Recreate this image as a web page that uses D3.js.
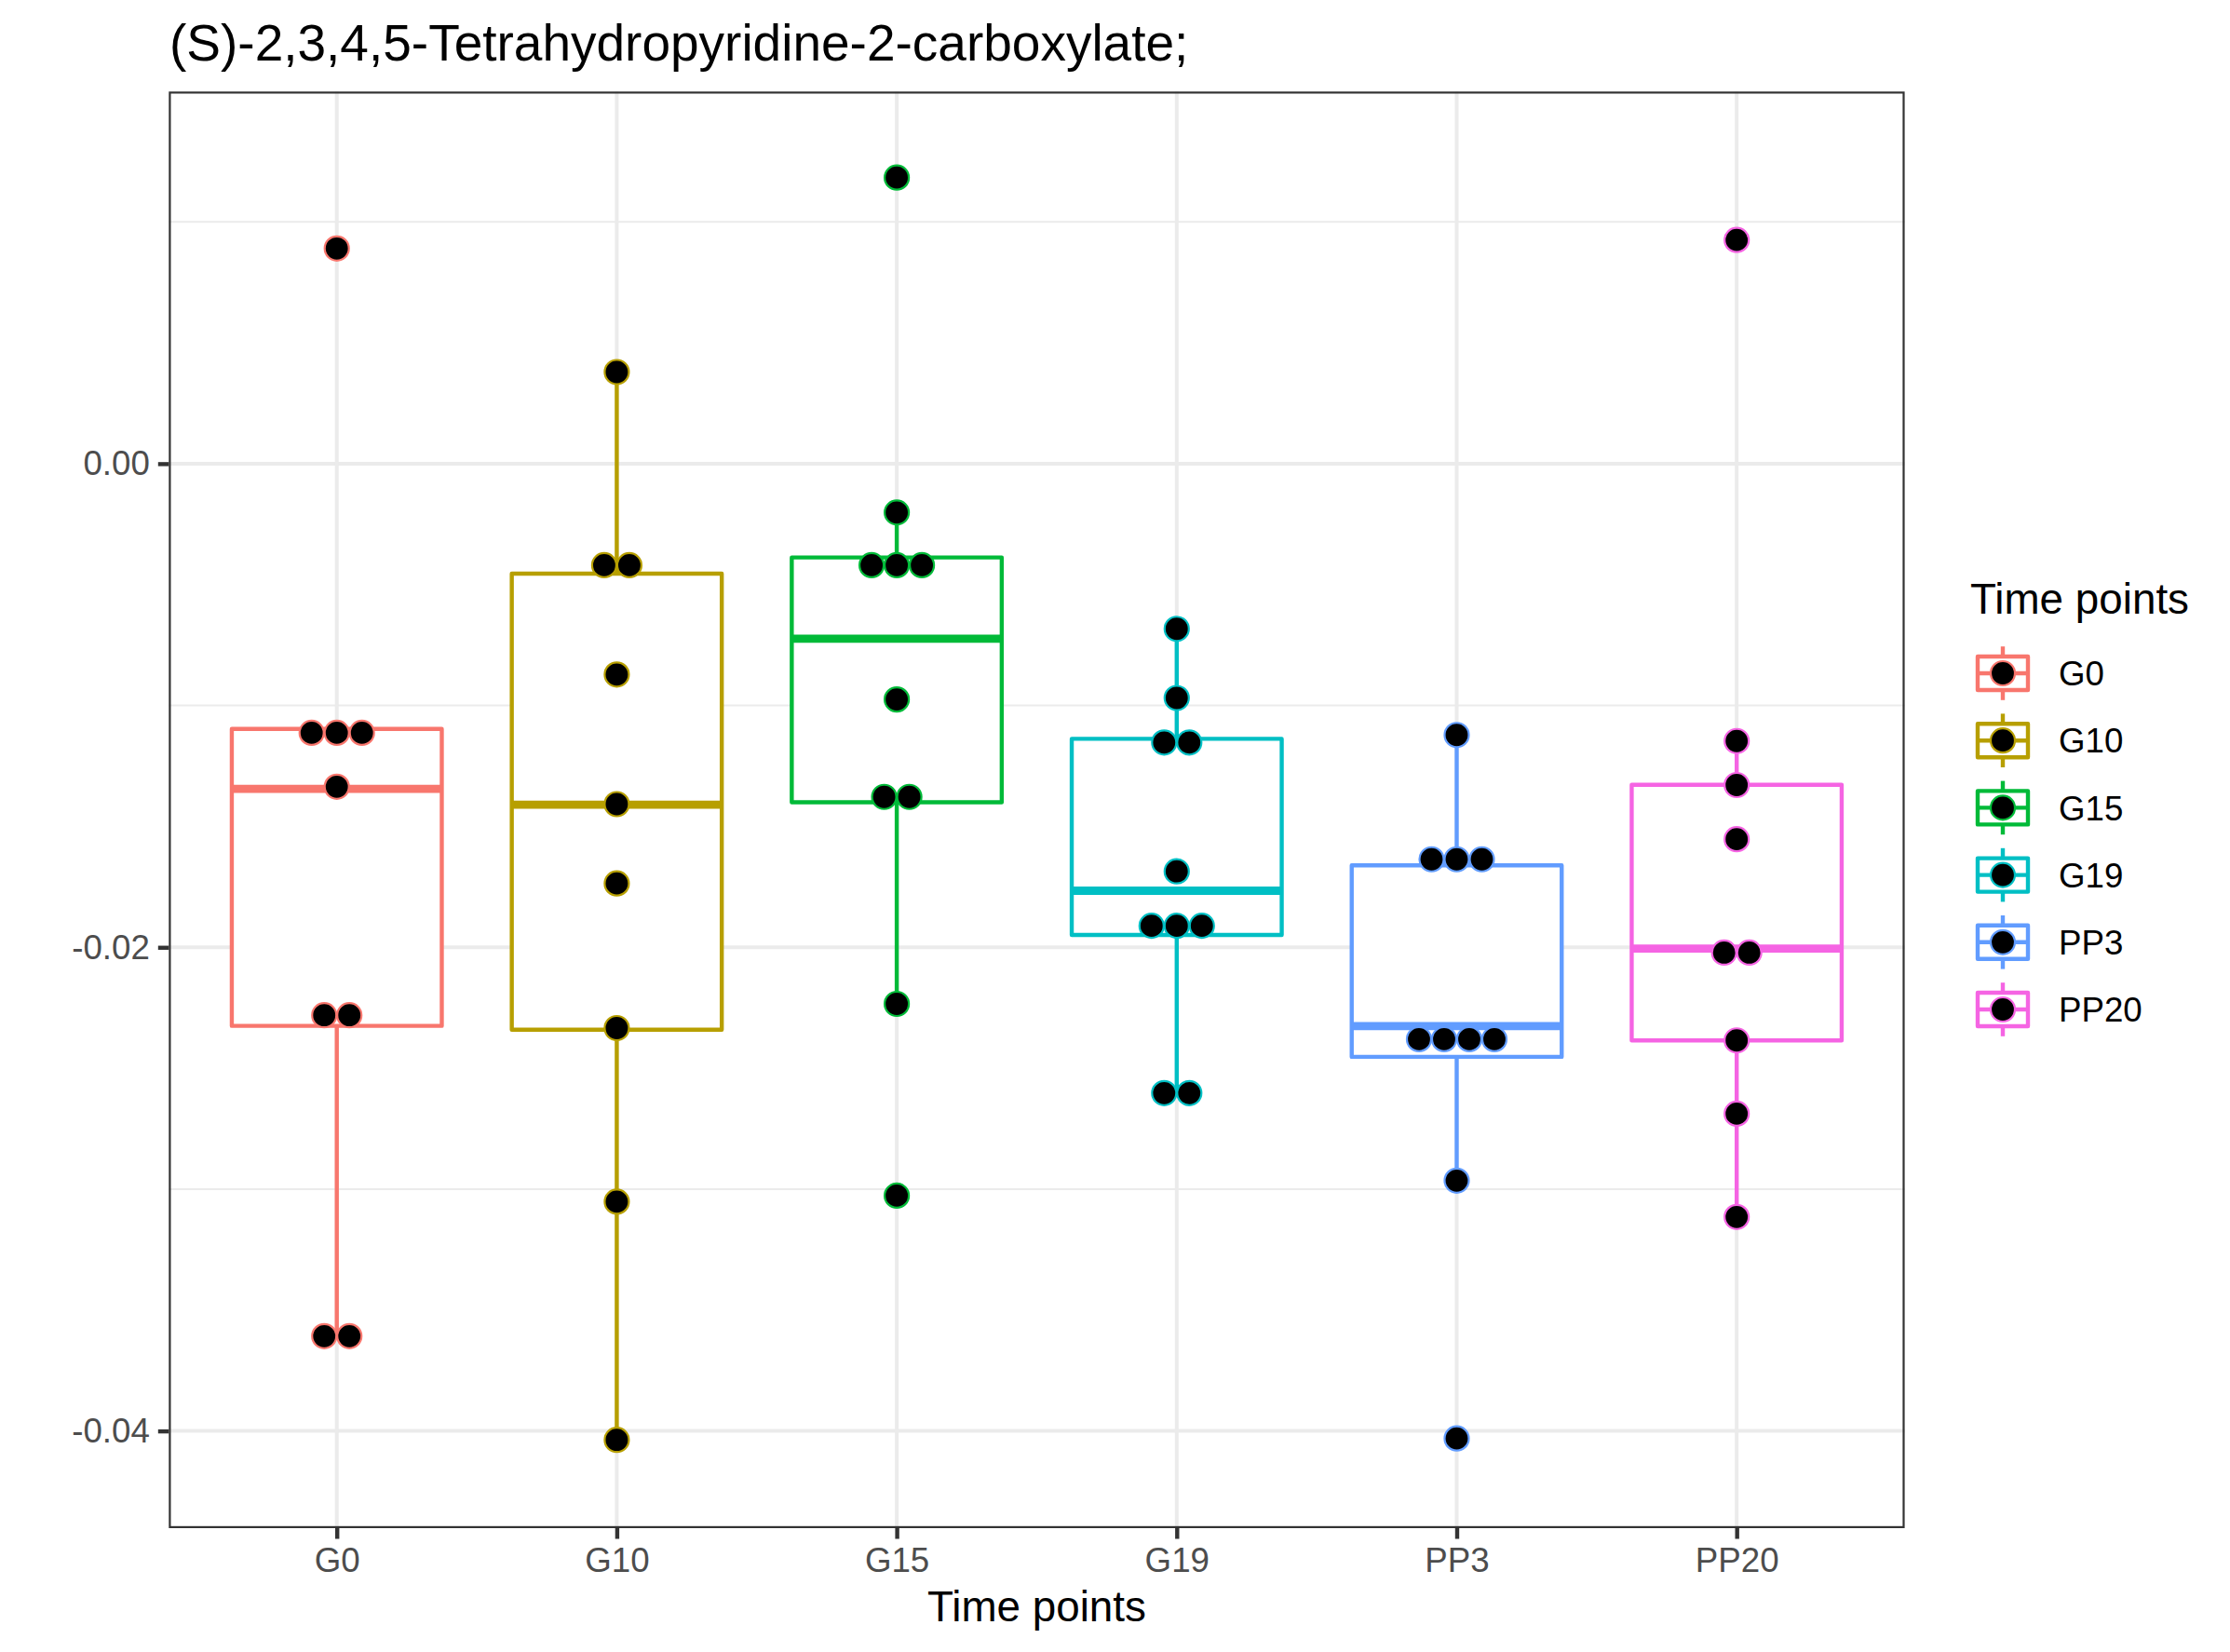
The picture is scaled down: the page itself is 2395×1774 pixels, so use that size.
<!DOCTYPE html>
<html>
<head>
<meta charset="utf-8">
<script src="https://cdn.jsdelivr.net/npm/d3@7"></script>
<style>
  html, body { margin: 0; padding: 0; background: #ffffff; }
  text { font-family: "Liberation Sans", Arial, Helvetica, sans-serif; }
</style>
</head>
<body>
<svg id="chart" width="2395" height="1774"></svg>
<script>
// ---------------- DATA ----------------
const categories = ["G0", "G10", "G15", "G19", "PP3", "PP20"];
const colors = ["#F8766D", "#B79F00", "#00BA38", "#00BFC4", "#619CFF", "#F564E3"];

// individual observations (stacked dots share a value)
const pointsG0   = [0.0089, -0.01113, -0.01113, -0.01113, -0.01336, -0.02281, -0.02281, -0.03608, -0.03608];
const pointsG10  = [0.00379, -0.00420, -0.00420, -0.00872, -0.01408, -0.01736, -0.02334, -0.03052, -0.04037];
const pointsG15  = [0.01183, -0.00202, -0.00420, -0.00420, -0.00420, -0.00975, -0.01378, -0.01378, -0.02234, -0.03027];
const pointsG19  = [-0.00683, -0.00969, -0.01153, -0.01153, -0.01686, -0.01911, -0.01911, -0.01911, -0.02603, -0.02603];
const pointsPP3  = [-0.01122, -0.01636, -0.01636, -0.01636, -0.02380, -0.02380, -0.02380, -0.02380, -0.02965, -0.04031];
const pointsPP20 = [0.00925, -0.01147, -0.01329, -0.01553, -0.02022, -0.02022, -0.02385, -0.02688, -0.03115];
const pointSets = [pointsG0, pointsG10, pointsG15, pointsG19, pointsPP3, pointsPP20];

// box statistics per category: lower whisker, Q1, median, Q3, upper whisker
const whiskerLow  = [-0.03608, -0.04037, -0.02234, -0.02603, -0.02965, -0.03115];
const q1          = [-0.02325, -0.02341, -0.01400, -0.01949, -0.02453, -0.02385];
const medians     = [-0.01345, -0.01410, -0.00724, -0.01766, -0.02326, -0.02005];
const q3          = [-0.01097, -0.00455, -0.00388, -0.01138, -0.01661, -0.01328];
const whiskerHigh = [-0.01097,  0.00379, -0.00202, -0.00683, -0.01122, -0.01147];

const yTicksMajor = [0.00, -0.02, -0.04];
const yTicksMinor = [0.01, -0.01, -0.03];
const yTickLabels = ["0.00", "-0.02", "-0.04"];

const titleText = "(S)-2,3,4,5-Tetrahydropyridine-2-carboxylate;";
const xTitle = "Time points";
const legendTitle = "Time points";

// ---------------- LAYOUT ----------------
const svg = d3.select("#chart");
const W = 2395, H = 1774;
const panel = { left: 181.3, right: 2045.6, top: 98.3, bottom: 1641 };

svg.append("rect").attr("x", 0).attr("y", 0).attr("width", W).attr("height", H).attr("fill", "#ffffff");

const x = d3.scalePoint().domain(categories).range([panel.left, panel.right]).padding(0.6);
const y = d3.scaleLinear().domain([-0.04402, 0.015388]).range([panel.bottom, panel.top]);
const step = x.step();
const boxW = 0.75 * step;
const dotSpacing = 27;
const dotR = 13;

const g = svg.append("g");

// grid
g.selectAll("line.minorY").data(yTicksMinor).join("line")
  .attr("x1", panel.left).attr("x2", panel.right)
  .attr("y1", d => y(d)).attr("y2", d => y(d))
  .attr("stroke", "#EBEBEB").attr("stroke-width", 2);
g.selectAll("line.majorY").data(yTicksMajor).join("line")
  .attr("x1", panel.left).attr("x2", panel.right)
  .attr("y1", d => y(d)).attr("y2", d => y(d))
  .attr("stroke", "#EBEBEB").attr("stroke-width", 4);
g.selectAll("line.majorX").data(categories).join("line")
  .attr("x1", d => x(d)).attr("x2", d => x(d))
  .attr("y1", panel.top).attr("y2", panel.bottom)
  .attr("stroke", "#EBEBEB").attr("stroke-width", 4);

// boxplots
categories.forEach((c, i) => {
  const cx = x(c);
  const col = colors[i];
  const bg = g.append("g");
  bg.append("line").attr("x1", cx).attr("x2", cx)
    .attr("y1", y(q3[i])).attr("y2", y(whiskerHigh[i]))
    .attr("stroke", col).attr("stroke-width", 4.4);
  bg.append("line").attr("x1", cx).attr("x2", cx)
    .attr("y1", y(q1[i])).attr("y2", y(whiskerLow[i]))
    .attr("stroke", col).attr("stroke-width", 4.4);
  bg.append("rect")
    .attr("x", cx - boxW / 2).attr("y", y(q3[i]))
    .attr("width", boxW).attr("height", y(q1[i]) - y(q3[i]))
    .attr("fill", "#ffffff").attr("stroke", col).attr("stroke-width", 4.4)
    .attr("stroke-linejoin", "round");
  bg.append("line").attr("x1", cx - boxW / 2).attr("x2", cx + boxW / 2)
    .attr("y1", y(medians[i])).attr("y2", y(medians[i]))
    .attr("stroke", col).attr("stroke-width", 8.8);
});

// dots (stacked centred like a dotplot)
categories.forEach((c, i) => {
  const cx = x(c);
  const groups = d3.groups(pointSets[i], d => d);
  const dots = [];
  groups.forEach(([v, arr]) => {
    const n = arr.length;
    arr.forEach((d, k) => dots.push({ v: d, off: (k - (n - 1) / 2) * dotSpacing }));
  });
  g.append("g").selectAll("circle").data(dots).join("circle")
    .attr("cx", d => cx + d.off).attr("cy", d => y(d.v)).attr("r", dotR)
    .attr("fill", "#000000").attr("stroke", colors[i]).attr("stroke-width", 2.2);
});

// panel border
svg.append("rect")
  .attr("x", panel.left + 1.1).attr("y", panel.top + 1.1)
  .attr("width", panel.right - panel.left - 2.2).attr("height", panel.bottom - panel.top - 2.2)
  .attr("fill", "none").attr("stroke", "#333333").attr("stroke-width", 2.2);

// y axis
const yAxis = d3.axisLeft(y).tickValues(yTicksMajor).tickSize(11.5).tickPadding(9)
  .tickFormat((d, i) => yTickLabels[i]);
const ya = svg.append("g").attr("transform", `translate(${panel.left},0)`).call(yAxis);
ya.select(".domain").remove();
ya.selectAll(".tick line").attr("stroke", "#333333").attr("stroke-width", 4.4);
ya.selectAll(".tick text").attr("fill", "#4D4D4D").style("font-size", "36.7px")
  .style("font-family", "'Liberation Sans', Arial, Helvetica, sans-serif");

// x axis
const xAxis = d3.axisBottom(x).tickSize(11.5).tickPadding(9);
const xa = svg.append("g").attr("transform", `translate(0,${panel.bottom})`).call(xAxis);
xa.select(".domain").remove();
xa.selectAll(".tick line").attr("stroke", "#333333").attr("stroke-width", 4.4);
xa.selectAll(".tick text").attr("fill", "#4D4D4D").style("font-size", "36.7px")
  .style("font-family", "'Liberation Sans', Arial, Helvetica, sans-serif");

// titles
svg.append("text").attr("x", 182).attr("y", 65).attr("fill", "#000")
  .style("font-size", "55px").text(titleText);
svg.append("text").attr("x", (panel.left + panel.right) / 2).attr("y", 1741)
  .attr("text-anchor", "middle").attr("fill", "#000")
  .style("font-size", "45.8px").text(xTitle);

// legend
const lg = svg.append("g");
lg.append("text").attr("x", 2116).attr("y", 659).attr("fill", "#000")
  .style("font-size", "45.8px").text(legendTitle);
const keyCx = 2151, key0 = 723, keyStep = 72.2, keySize = 72;
categories.forEach((c, i) => {
  const cy = key0 + i * keyStep;
  const col = colors[i];
  const k = lg.append("g");
  const left = keyCx - keySize / 2, top = cy - keySize / 2;
  k.append("line").attr("x1", keyCx).attr("x2", keyCx)
    .attr("y1", top + 0.1 * keySize).attr("y2", top + 0.25 * keySize)
    .attr("stroke", col).attr("stroke-width", 4.4);
  k.append("line").attr("x1", keyCx).attr("x2", keyCx)
    .attr("y1", top + 0.75 * keySize).attr("y2", top + 0.9 * keySize)
    .attr("stroke", col).attr("stroke-width", 4.4);
  k.append("rect").attr("x", left + 0.125 * keySize).attr("y", top + 0.25 * keySize)
    .attr("width", 0.75 * keySize).attr("height", 0.5 * keySize)
    .attr("fill", "#fff").attr("stroke", col).attr("stroke-width", 4.4)
    .attr("stroke-linejoin", "round");
  k.append("line").attr("x1", left + 0.125 * keySize).attr("x2", left + 0.875 * keySize)
    .attr("y1", cy).attr("y2", cy).attr("stroke", col).attr("stroke-width", 4.4);
  k.append("circle").attr("cx", keyCx).attr("cy", cy).attr("r", dotR)
    .attr("fill", "#000").attr("stroke", col).attr("stroke-width", 2.2);
  lg.append("text").attr("x", 2211).attr("y", cy).attr("dy", "0.36em").attr("fill", "#000")
    .style("font-size", "36.7px").text(c);
});
</script>
</body>
</html>
